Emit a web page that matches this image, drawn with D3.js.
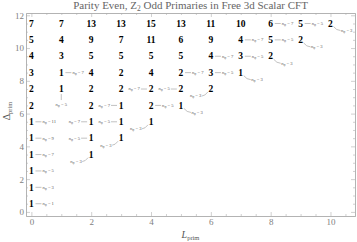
<!DOCTYPE html>
<html>
<head>
<meta charset="utf-8">
<script src="https://cdn.jsdelivr.net/npm/d3@7"></script>
<style>
  body { margin: 0; background: #fff; }
  svg { display: block; }
</style>
</head>
<body>
<svg width="357" height="242"></svg>
<script>
// primaries, one entry each: spin L, dimension Delta, how many, n_phi (0 = no callout)
var spins = [0,0,0,0,0,0,0,0,0,0,0,0,
             1,1,1,1,1,
             2,2,2,2,2,2,2,2,2,
             3,3,3,3,3,3,3,3,
             4,4,4,4,4,4,4,
             5,5,5,5,5,5,
             6,6,6,6,6,
             7,7,7,7,
             8,8,8,
             9,9,
             10];
var dims = [11.5,10.5,9.5,8.5,7.5,6.5,5.5,4.5,3.5,2.5,1.5,0.5,
            11.5,10.5,9.5,8.5,7.5,
            11.5,10.5,9.5,8.5,7.5,6.5,5.5,4.5,3.5,
            11.5,10.5,9.5,8.5,7.5,6.5,5.5,4.5,
            11.5,10.5,9.5,8.5,7.5,6.5,5.5,
            11.5,10.5,9.5,8.5,7.5,6.5,
            11.5,10.5,9.5,8.5,7.5,
            11.5,10.5,9.5,8.5,
            11.5,10.5,9.5,
            11.5,10.5,
            11.5];
var counts = [7,5,4,3,2,2,1,1,1,1,1,1,
              7,4,3,1,1,
              13,9,5,4,2,2,1,1,1,
              13,7,5,2,2,1,1,1,
              15,11,5,4,2,2,1,
              13,6,5,2,2,1,
              11,9,4,3,2,
              10,4,3,1,
              6,5,2,
              5,2,
              2];
var nphi = [0,0,0,0,0,0,11,9,7,5,3,1,
            0,0,0,7,5,
            0,0,0,0,0,0,7,5,3,
            0,0,0,0,0,7,5,3,
            0,0,0,0,7,5,3,
            0,0,0,7,5,3,
            0,0,7,5,3,
            0,7,5,3,
            7,5,3,
            5,3,
            3];

var xMajor = [0, 2, 4, 6, 8, 10];
var yMajor = [0, 2, 4, 6, 8, 10, 12];

var svg = d3.select("svg"),
    width = +svg.attr("width"),
    height = +svg.attr("height");

var plotLeft = 26, plotRight = 355, plotTop = 13, plotBottom = 216;

var x = d3.scaleLinear().domain([-0.18, 10.82]).range([plotLeft, plotRight]);
var y = d3.scaleLinear().domain([-0.25, 12.14]).range([plotBottom, plotTop]);

var frameColor = "#b0b0b0",
    labelColor = "#808080",
    serif = "'Liberation Serif', 'DejaVu Serif', serif";

// minor ticks every 0.5
var xMinor = d3.range(0, 10.81, 0.5).filter(function (v) { return v % 2 != 0; });
var yMinor = d3.range(0, 12.1, 0.5).filter(function (v) { return v % 2 != 0; });

function frameAxis(axis, tx, ty, labels) {
    var g = svg.append("g")
        .attr("transform", "translate(" + tx + "," + ty + ")")
        .call(axis);
    g.select(".domain").attr("stroke", frameColor).attr("stroke-width", 0.8);
    g.selectAll(".tick line").attr("stroke", frameColor).attr("stroke-width", 0.6);
    g.selectAll("text")
        .attr("fill", labels ? labelColor : "none")
        .style("font-family", serif)
        .style("font-size", "9px");
    return g;
}

// bottom / left with labels, top / right bare; all ticks point inward
frameAxis(d3.axisBottom(x).tickValues(xMajor).tickSizeInner(-4).tickSizeOuter(0).tickPadding(3).tickFormat(d3.format("d")), 0, plotBottom, true);
frameAxis(d3.axisBottom(x).tickValues(xMinor).tickSizeInner(-2).tickSizeOuter(0).tickFormat(""), 0, plotBottom, false);
frameAxis(d3.axisTop(x).tickValues(xMajor).tickSizeInner(-4).tickSizeOuter(0).tickFormat(""), 0, plotTop, false);
frameAxis(d3.axisTop(x).tickValues(xMinor).tickSizeInner(-2).tickSizeOuter(0).tickFormat(""), 0, plotTop, false);
frameAxis(d3.axisLeft(y).tickValues(yMajor).tickSizeInner(-4).tickSizeOuter(0).tickPadding(2).tickFormat(d3.format("d")), plotLeft, 0, true);
frameAxis(d3.axisLeft(y).tickValues(yMinor).tickSizeInner(-2).tickSizeOuter(0).tickFormat(""), plotLeft, 0, false);
frameAxis(d3.axisRight(y).tickValues(yMajor).tickSizeInner(-4).tickSizeOuter(0).tickFormat(""), plotRight, 0, false);
frameAxis(d3.axisRight(y).tickValues(yMinor).tickSizeInner(-2).tickSizeOuter(0).tickFormat(""), plotRight, 0, false);

// title
var title = svg.append("text")
    .attr("x", (plotLeft + plotRight) / 2)
    .attr("y", 9)
    .attr("text-anchor", "middle")
    .attr("fill", "#666")
    .style("font-family", serif)
    .style("font-size", "11px");
title.append("tspan").text("Parity Even, Z");
title.append("tspan").attr("dy", 2).style("font-size", "7.5px").text("2");
title.append("tspan").attr("dy", -2).text(" Odd Primaries in Free 3d Scalar CFT");

// axis titles
var xt = svg.append("text")
    .attr("x", (plotLeft + plotRight) / 2)
    .attr("y", 238)
    .attr("text-anchor", "middle")
    .attr("fill", "#555")
    .style("font-family", serif)
    .style("font-size", "10px");
xt.append("tspan").style("font-style", "italic").text("L");
xt.append("tspan").attr("dy", 2).style("font-size", "6.5px").text("prim");

var yt = svg.append("text")
    .attr("transform", "translate(10," + 111 + ") rotate(-90)")
    .attr("text-anchor", "middle")
    .attr("fill", "#555")
    .style("font-family", serif)
    .style("font-size", "10px");
yt.append("tspan").text("\u0394");
yt.append("tspan").attr("dy", 2).style("font-size", "6.5px").text("prim");

// where each n_phi callout sits relative to its number (default: right)
var calloutDir = {
    "1,7.5": "d",
    "2,5.5": "l", "2,4.5": "l", "2,3.5": "dl",
    "3,6.5": "l", "3,5.5": "l", "3,4.5": "dl",
    "4,7.5": "l", "4,5.5": "dl",
    "5,7.5": "l", "5,6.5": "dr",
    "6,7.5": "dl",
    "7,8.5": "dr", "8,9.5": "dr", "9,10.5": "dr", "10,11.5": "dr"
};

var data = spins.map(function (s, i) {
    return { L: s, D: dims[i], n: counts[i], phi: nphi[i] };
});

var marks = svg.append("g");

marks.selectAll("text.count")
    .data(data)
    .enter()
    .append("text")
    .attr("class", "count")
    .attr("x", function (d) { return x(d.L); })
    .attr("y", function (d) { return y(d.D); })
    .attr("dy", "0.34em")
    .attr("text-anchor", "middle")
    .attr("fill", "#000")
    .style("font-family", serif)
    .style("font-weight", "bold")
    .style("font-size", "9.5px")
    .text(function (d) { return d.n; });

// callouts
var withPhi = data.filter(function (d) { return d.phi > 0; });

withPhi.forEach(function (d) {
    var cx = x(d.L), cy = y(d.D);
    var hw = String(d.n).length * 2.4 + 0.7;
    var dir = calloutDir[d.L + "," + d.D] || "r";
    var path, lx, ly, anchor;
    if (dir == "r") {
        path = "M" + (cx + hw + 1) + "," + cy + "H" + (cx + hw + 7);
        lx = cx + hw + 8; ly = cy; anchor = "start";
    } else if (dir == "l") {
        path = "M" + (cx - hw - 1) + "," + cy + "H" + (cx - hw - 7);
        lx = cx - hw - 8; ly = cy; anchor = "end";
    } else if (dir == "dr") {
        path = "M" + (cx + 3) + "," + (cy + 3) + "Q" + (cx + 6) + "," + (cy + 7) + " " + (cx + 10) + "," + (cy + 7);
        lx = cx + 10.5; ly = cy + 7; anchor = "start";
    } else if (dir == "dl") {
        path = "M" + (cx - 3) + "," + (cy + 3) + "Q" + (cx - 6) + "," + (cy + 7) + " " + (cx - 9) + "," + (cy + 7);
        lx = cx - 9.5; ly = cy + 7; anchor = "end";
    } else {
        path = "M" + cx + "," + (cy + 5) + "V" + (cy + 11);
        lx = cx; ly = cy + 15.5; anchor = "middle";
    }
    marks.append("path")
        .attr("d", path)
        .attr("fill", "none")
        .attr("stroke", "#999")
        .attr("stroke-width", 0.6);
    var t = marks.append("text")
        .attr("x", lx)
        .attr("y", ly)
        .attr("dy", "0.3em")
        .attr("text-anchor", anchor)
        .attr("fill", "#555")
        .style("font-family", serif)
        .style("font-size", "4.6px");
    t.append("tspan").style("font-style", "italic").text("n");
    t.append("tspan").attr("dy", 1).style("font-size", "3.4px").text("\u03c6");
    t.append("tspan").attr("dy", -1).text(" = " + d.phi);
});
</script>
</body>
</html>
